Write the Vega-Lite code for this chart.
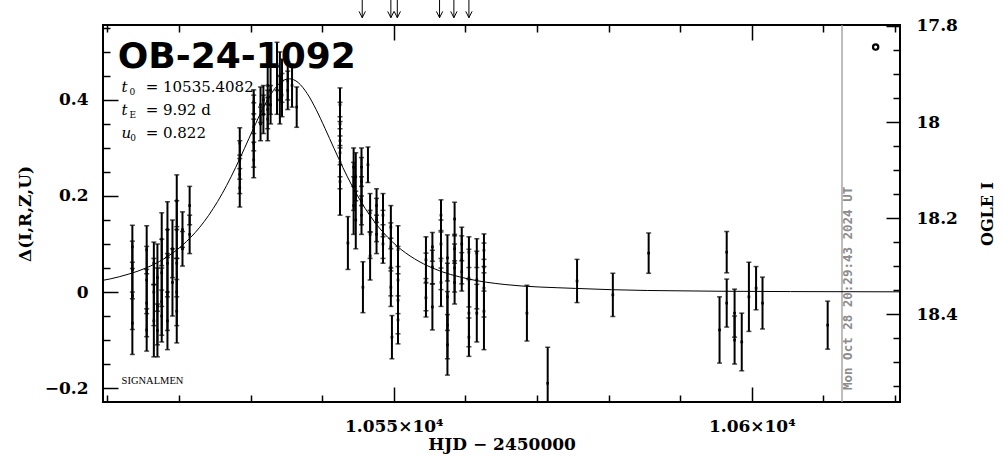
{
  "$schema": "https://vega.github.io/schema/vega-lite/v6.json",
  "width": 797,
  "height": 377,
  "autosize": {"type": "none"},
  "padding": {"left": 103, "top": 25, "right": 104, "bottom": 57},
  "background": "white",
  "config": {
    "view": {"stroke": "black", "strokeWidth": 2},
    "axis": {"domain": false, "grid": false, "tickColor": "black", "tickWidth": 1.5, "labelColor": "black", "titleColor": "black", "labelFont": "DejaVu Serif", "titleFont": "DejaVu Serif", "titleFontWeight": "bold", "labelFontWeight": "bold", "labelFontSize": 17, "titleFontSize": 17}
  },
  "data": {"values": [{"t": 10550, "d": 0, "m": 18}]},
  "datasets": {
    "pts": [
      {"t": 10513.5, "d": 0.094, "lo": 0.049, "hi": 0.139}, {"t": 10513.5, "d": 0.046, "lo": -0.014, "hi": 0.106}, {"t": 10513.5, "d": -0.008, "lo": -0.078, "hi": 0.062}, {"t": 10513.5, "d": -0.065, "lo": -0.13, "hi": 0.0},
      {"t": 10515.5, "d": 0.088, "lo": 0.038, "hi": 0.138}, {"t": 10515.5, "d": 0.025, "lo": -0.045, "hi": 0.095}, {"t": 10515.5, "d": -0.023, "lo": -0.093, "hi": 0.047}, {"t": 10515.5, "d": -0.079, "lo": -0.123, "hi": -0.035},
      {"t": 10516.5, "d": 0.06, "lo": 0.016, "hi": 0.104}, {"t": 10516.5, "d": 0.0, "lo": -0.07, "hi": 0.07}, {"t": 10516.5, "d": -0.06, "lo": -0.135, "hi": 0.015},
      {"t": 10517.0, "d": 0.03, "lo": -0.04, "hi": 0.1}, {"t": 10517.0, "d": -0.03, "lo": -0.11, "hi": 0.05}, {"t": 10517.0, "d": -0.08, "lo": -0.135, "hi": -0.025},
      {"t": 10517.6, "d": 0.11, "lo": 0.055, "hi": 0.165}, {"t": 10517.6, "d": 0.04, "lo": -0.03, "hi": 0.11}, {"t": 10517.6, "d": -0.02, "lo": -0.09, "hi": 0.05}, {"t": 10517.6, "d": -0.05, "lo": -0.104, "hi": 0.004},
      {"t": 10518.4, "d": 0.13, "lo": 0.072, "hi": 0.188}, {"t": 10518.4, "d": 0.06, "lo": -0.01, "hi": 0.13}, {"t": 10518.4, "d": 0.0, "lo": -0.08, "hi": 0.08}, {"t": 10518.4, "d": -0.06, "lo": -0.12, "hi": 0.0},
      {"t": 10519.1, "d": 0.09, "lo": 0.03, "hi": 0.15}, {"t": 10519.1, "d": 0.02, "lo": -0.05, "hi": 0.09},
      {"t": 10519.7, "d": 0.19, "lo": 0.136, "hi": 0.244}, {"t": 10519.7, "d": 0.13, "lo": 0.07, "hi": 0.19}, {"t": 10519.7, "d": 0.06, "lo": -0.01, "hi": 0.13}, {"t": 10519.7, "d": 0.0, "lo": -0.07, "hi": 0.07}, {"t": 10519.7, "d": -0.04, "lo": -0.106, "hi": 0.026},
      {"t": 10520.5, "d": 0.13, "lo": 0.093, "hi": 0.167}, {"t": 10520.5, "d": 0.09, "lo": 0.054, "hi": 0.126},
      {"t": 10521.5, "d": 0.18, "lo": 0.14, "hi": 0.22}, {"t": 10521.5, "d": 0.12, "lo": 0.08, "hi": 0.16},
      {"t": 10528.5, "d": 0.31, "lo": 0.278, "hi": 0.342}, {"t": 10528.5, "d": 0.275, "lo": 0.235, "hi": 0.315}, {"t": 10528.5, "d": 0.245, "lo": 0.205, "hi": 0.285}, {"t": 10528.5, "d": 0.217, "lo": 0.177, "hi": 0.257},
      {"t": 10530.45, "d": 0.396, "lo": 0.371, "hi": 0.421}, {"t": 10530.45, "d": 0.37, "lo": 0.33, "hi": 0.41}, {"t": 10530.45, "d": 0.344, "lo": 0.294, "hi": 0.394}, {"t": 10530.45, "d": 0.31, "lo": 0.26, "hi": 0.36}, {"t": 10530.45, "d": 0.275, "lo": 0.238, "hi": 0.312},
      {"t": 10531.4, "d": 0.39, "lo": 0.353, "hi": 0.427}, {"t": 10531.4, "d": 0.35, "lo": 0.315, "hi": 0.385},
      {"t": 10531.8, "d": 0.4, "lo": 0.37, "hi": 0.43}, {"t": 10531.8, "d": 0.37, "lo": 0.33, "hi": 0.41},
      {"t": 10532.4, "d": 0.43, "lo": 0.39, "hi": 0.47}, {"t": 10532.4, "d": 0.38, "lo": 0.34, "hi": 0.42}, {"t": 10532.4, "d": 0.36, "lo": 0.315, "hi": 0.405},
      {"t": 10532.8, "d": 0.42, "lo": 0.37, "hi": 0.47}, {"t": 10532.8, "d": 0.39, "lo": 0.35, "hi": 0.43},
      {"t": 10533.7, "d": 0.47, "lo": 0.42, "hi": 0.52}, {"t": 10533.7, "d": 0.42, "lo": 0.37, "hi": 0.47},
      {"t": 10534.1, "d": 0.45, "lo": 0.4, "hi": 0.5}, {"t": 10534.1, "d": 0.4, "lo": 0.35, "hi": 0.45},
      {"t": 10534.4, "d": 0.44, "lo": 0.395, "hi": 0.485}, {"t": 10534.4, "d": 0.41, "lo": 0.365, "hi": 0.455},
      {"t": 10535.2, "d": 0.44, "lo": 0.4, "hi": 0.48}, {"t": 10535.2, "d": 0.42, "lo": 0.38, "hi": 0.46},
      {"t": 10535.8, "d": 0.43, "lo": 0.385, "hi": 0.475},
      {"t": 10536.45, "d": 0.385, "lo": 0.343, "hi": 0.427},
      {"t": 10542.5, "d": 0.39, "lo": 0.355, "hi": 0.425}, {"t": 10542.5, "d": 0.35, "lo": 0.305, "hi": 0.395}, {"t": 10542.5, "d": 0.315, "lo": 0.265, "hi": 0.365}, {"t": 10542.5, "d": 0.29, "lo": 0.24, "hi": 0.34}, {"t": 10542.5, "d": 0.27, "lo": 0.215, "hi": 0.325}, {"t": 10542.5, "d": 0.23, "lo": 0.16, "hi": 0.3},
      {"t": 10543.6, "d": 0.102, "lo": 0.047, "hi": 0.157},
      {"t": 10544.4, "d": 0.26, "lo": 0.22, "hi": 0.3}, {"t": 10544.4, "d": 0.22, "lo": 0.17, "hi": 0.27}, {"t": 10544.4, "d": 0.18, "lo": 0.12, "hi": 0.24},
      {"t": 10544.7, "d": 0.24, "lo": 0.19, "hi": 0.29}, {"t": 10544.7, "d": 0.15, "lo": 0.09, "hi": 0.21},
      {"t": 10545.5, "d": 0.26, "lo": 0.22, "hi": 0.3}, {"t": 10545.5, "d": 0.23, "lo": 0.18, "hi": 0.28}, {"t": 10545.5, "d": 0.19, "lo": 0.14, "hi": 0.24}, {"t": 10545.5, "d": 0.16, "lo": 0.12, "hi": 0.2},
      {"t": 10545.7, "d": 0.01, "lo": -0.043, "hi": 0.063},
      {"t": 10546.4, "d": 0.265, "lo": 0.228, "hi": 0.302},
      {"t": 10546.7, "d": 0.165, "lo": 0.125, "hi": 0.205}, {"t": 10546.7, "d": 0.12, "lo": 0.07, "hi": 0.17}, {"t": 10546.7, "d": 0.075, "lo": 0.025, "hi": 0.125},
      {"t": 10547.6, "d": 0.18, "lo": 0.145, "hi": 0.215}, {"t": 10547.6, "d": 0.15, "lo": 0.105, "hi": 0.195}, {"t": 10547.6, "d": 0.12, "lo": 0.08, "hi": 0.16},
      {"t": 10548.5, "d": 0.16, "lo": 0.115, "hi": 0.205}, {"t": 10548.5, "d": 0.12, "lo": 0.07, "hi": 0.17}, {"t": 10548.5, "d": 0.1, "lo": 0.06, "hi": 0.14},
      {"t": 10549.6, "d": 0.135, "lo": 0.09, "hi": 0.18}, {"t": 10549.6, "d": 0.094, "lo": 0.044, "hi": 0.144}, {"t": 10549.6, "d": 0.052, "lo": -0.008, "hi": 0.112}, {"t": 10549.6, "d": 0.01, "lo": -0.03, "hi": 0.05},
      {"t": 10549.75, "d": -0.094, "lo": -0.139, "hi": -0.049},
      {"t": 10550.6, "d": 0.088, "lo": 0.038, "hi": 0.138}, {"t": 10550.6, "d": 0.025, "lo": -0.045, "hi": 0.095}, {"t": 10550.6, "d": -0.017, "lo": -0.087, "hi": 0.053}, {"t": 10550.6, "d": -0.058, "lo": -0.108, "hi": -0.008},
      {"t": 10554.5, "d": 0.067, "lo": 0.019, "hi": 0.115}, {"t": 10554.5, "d": 0.021, "lo": -0.039, "hi": 0.081}, {"t": 10554.5, "d": -0.012, "lo": -0.052, "hi": 0.028},
      {"t": 10555.4, "d": 0.094, "lo": 0.064, "hi": 0.124}, {"t": 10555.4, "d": 0.052, "lo": 0.017, "hi": 0.087}, {"t": 10555.4, "d": -0.031, "lo": -0.079, "hi": 0.017},
      {"t": 10556.6, "d": 0.16, "lo": 0.128, "hi": 0.192}, {"t": 10556.6, "d": 0.1, "lo": 0.05, "hi": 0.15}, {"t": 10556.6, "d": 0.065, "lo": 0.005, "hi": 0.125}, {"t": 10556.6, "d": 0.02, "lo": -0.03, "hi": 0.07},
      {"t": 10557.5, "d": 0.071, "lo": 0.023, "hi": 0.119}, {"t": 10557.5, "d": -0.01, "lo": -0.08, "hi": 0.06}, {"t": 10557.5, "d": -0.069, "lo": -0.139, "hi": 0.001}, {"t": 10557.5, "d": -0.11, "lo": -0.173, "hi": -0.047},
      {"t": 10558.5, "d": 0.152, "lo": 0.117, "hi": 0.187}, {"t": 10558.5, "d": 0.09, "lo": 0.06, "hi": 0.12}, {"t": 10558.5, "d": 0.05, "lo": 0.0, "hi": 0.1}, {"t": 10558.5, "d": 0.02, "lo": -0.025, "hi": 0.065},
      {"t": 10559.5, "d": 0.1, "lo": 0.065, "hi": 0.135}, {"t": 10559.5, "d": 0.067, "lo": 0.017, "hi": 0.117}, {"t": 10559.5, "d": 0.042, "lo": 0.002, "hi": 0.082},
      {"t": 10560.5, "d": 0.083, "lo": 0.051, "hi": 0.115}, {"t": 10560.5, "d": 0.029, "lo": -0.031, "hi": 0.089}, {"t": 10560.5, "d": -0.044, "lo": -0.114, "hi": 0.026}, {"t": 10560.5, "d": -0.094, "lo": -0.134, "hi": -0.054},
      {"t": 10561.6, "d": 0.081, "lo": 0.051, "hi": 0.111}, {"t": 10561.6, "d": 0.025, "lo": -0.035, "hi": 0.085}, {"t": 10561.6, "d": -0.044, "lo": -0.104, "hi": 0.016},
      {"t": 10562.6, "d": 0.087, "lo": 0.053, "hi": 0.121}, {"t": 10562.6, "d": 0.052, "lo": 0.002, "hi": 0.102}, {"t": 10562.6, "d": 0.008, "lo": -0.052, "hi": 0.068}, {"t": 10562.6, "d": -0.04, "lo": -0.12, "hi": 0.04},
      {"t": 10568.6, "d": -0.044, "lo": -0.102, "hi": 0.014},
      {"t": 10571.5, "d": -0.19, "lo": -0.265, "hi": -0.115},
      {"t": 10575.6, "d": 0.023, "lo": -0.022, "hi": 0.068},
      {"t": 10580.6, "d": -0.006, "lo": -0.051, "hi": 0.039},
      {"t": 10585.6, "d": 0.081, "lo": 0.039, "hi": 0.123},
      {"t": 10595.5, "d": -0.079, "lo": -0.148, "hi": -0.01},
      {"t": 10596.5, "d": 0.083, "lo": 0.04, "hi": 0.126}, {"t": 10596.5, "d": -0.023, "lo": -0.073, "hi": 0.027},
      {"t": 10597.6, "d": -0.044, "lo": -0.094, "hi": 0.006}, {"t": 10597.6, "d": -0.1, "lo": -0.15, "hi": -0.05},
      {"t": 10598.6, "d": -0.104, "lo": -0.164, "hi": -0.044},
      {"t": 10599.6, "d": -0.01, "lo": -0.082, "hi": 0.062},
      {"t": 10600.6, "d": 0.008, "lo": -0.037, "hi": 0.053},
      {"t": 10601.5, "d": -0.023, "lo": -0.077, "hi": 0.031},
      {"t": 10610.6, "d": -0.069, "lo": -0.119, "hi": -0.019}
    ],
    "curve": [
      {"t": 10509.4, "d": 0.0244}, {"t": 10510.41, "d": 0.0273}, {"t": 10512.91, "d": 0.037}, {"t": 10515.41, "d": 0.05},
      {"t": 10517.91, "d": 0.0691}, {"t": 10520.41, "d": 0.0963}, {"t": 10522.91, "d": 0.1349}, {"t": 10524.16, "d": 0.1597},
      {"t": 10525.41, "d": 0.1886}, {"t": 10526.66, "d": 0.2217}, {"t": 10527.91, "d": 0.2589}, {"t": 10529.16, "d": 0.2992},
      {"t": 10530.41, "d": 0.3405}, {"t": 10531.66, "d": 0.3801}, {"t": 10532.91, "d": 0.4134}, {"t": 10534.16, "d": 0.4361},
      {"t": 10535.41, "d": 0.444}, {"t": 10536.66, "d": 0.4361}, {"t": 10537.91, "d": 0.4134}, {"t": 10539.16, "d": 0.3801},
      {"t": 10540.41, "d": 0.3405}, {"t": 10541.66, "d": 0.2992}, {"t": 10542.91, "d": 0.2589}, {"t": 10544.16, "d": 0.2217},
      {"t": 10545.41, "d": 0.1886}, {"t": 10546.66, "d": 0.1597}, {"t": 10547.91, "d": 0.1349}, {"t": 10550.41, "d": 0.0963},
      {"t": 10552.91, "d": 0.0691}, {"t": 10555.41, "d": 0.05}, {"t": 10560.41, "d": 0.0273}, {"t": 10565.41, "d": 0.0158},
      {"t": 10575.41, "d": 0.0075}, {"t": 10585.41, "d": 0.0032}, {"t": 10605.41, "d": 0.0009}, {"t": 10620.7, "d": 0.0004}
    ],
    "arrows": [{"t": 10545.6}, {"t": 10549.6}, {"t": 10550.5}, {"t": 10556.4}, {"t": 10558.4}, {"t": 10560.5}],
    "sym": [{"s": "t", "t": 10512.0, "d": 0.4167}, {"s": "t", "t": 10512.0, "d": 0.3688}, {"s": "u", "t": 10512.0, "d": 0.3208}],
    "subs": [{"s": "0", "t": 10513.1, "d": 0.4104}, {"s": "E", "t": 10513.1, "d": 0.3625}, {"s": "0", "t": 10513.2, "d": 0.3146}],
    "vals": [{"s": "= 10535.4082", "t": 10515.36, "d": 0.4167}, {"s": "= 9.92 d", "t": 10515.36, "d": 0.3688}, {"s": "= 0.822", "t": 10515.36, "d": 0.3208}]
  },
  "resolve": {"scale": {"y": "independent"}, "axis": {"x": "independent", "y": "independent"}},
  "layer": [
    {
      "data": {"values": [{"t": 10612.6}]},
      "mark": {"type": "rule", "color": "#9a9a9a", "strokeWidth": 1.3},
      "encoding": {"x": {"field": "t", "type": "quantitative", "scale": {"domain": [10509.4, 10620.7], "nice": false, "zero": false}, "axis": null}}
    },
    {
      "data": {"name": "curve"},
      "mark": {"type": "line", "color": "black", "strokeWidth": 1, "interpolate": "monotone", "clip": true},
      "encoding": {
        "x": {"field": "t", "type": "quantitative", "scale": {"domain": [10509.4, 10620.7], "nice": false, "zero": false}, "axis": null},
        "y": {"field": "d", "type": "quantitative", "scale": {"domain": [-0.229, 0.556], "nice": false, "zero": false}, "axis": null}
      }
    },
    {
      "data": {"name": "pts"},
      "mark": {"type": "rule", "color": "black", "strokeWidth": 2, "clip": true},
      "encoding": {
        "x": {"field": "t", "type": "quantitative", "scale": {"domain": [10509.4, 10620.7], "nice": false, "zero": false}, "axis": null},
        "y": {"field": "lo", "type": "quantitative", "scale": {"domain": [-0.229, 0.556], "nice": false, "zero": false}, "axis": null},
        "y2": {"field": "hi"}
      }
    },
    {
      "data": {"name": "pts"},
      "mark": {"type": "tick", "orient": "horizontal", "color": "black", "size": 5, "thickness": 1.5, "clip": true},
      "encoding": {
        "x": {"field": "t", "type": "quantitative", "scale": {"domain": [10509.4, 10620.7], "nice": false, "zero": false}, "axis": null},
        "y": {"field": "lo", "type": "quantitative", "scale": {"domain": [-0.229, 0.556], "nice": false, "zero": false}, "axis": null}
      }
    },
    {
      "data": {"name": "pts"},
      "mark": {"type": "tick", "orient": "horizontal", "color": "black", "size": 5, "thickness": 1.5, "clip": true},
      "encoding": {
        "x": {"field": "t", "type": "quantitative", "scale": {"domain": [10509.4, 10620.7], "nice": false, "zero": false}, "axis": null},
        "y": {"field": "hi", "type": "quantitative", "scale": {"domain": [-0.229, 0.556], "nice": false, "zero": false}, "axis": null}
      }
    },
    {
      "data": {"name": "pts"},
      "mark": {"type": "point", "shape": "square", "filled": true, "size": 7, "color": "black", "opacity": 1},
      "encoding": {
        "x": {"field": "t", "type": "quantitative", "scale": {"domain": [10509.4, 10620.7], "nice": false, "zero": false}, "axis": null},
        "y": {"field": "d", "type": "quantitative", "scale": {"domain": [-0.229, 0.556], "nice": false, "zero": false}, "axis": null}
      }
    },
    {
      "data": {"values": [{"t": 10617.3, "d": 0.51}]},
      "mark": {"type": "point", "shape": "circle", "filled": false, "size": 28, "color": "black", "strokeWidth": 2.2, "opacity": 1},
      "encoding": {
        "x": {"field": "t", "type": "quantitative", "scale": {"domain": [10509.4, 10620.7], "nice": false, "zero": false}, "axis": null},
        "y": {"field": "d", "type": "quantitative", "scale": {"domain": [-0.229, 0.556], "nice": false, "zero": false}, "axis": null}
      }
    },
    {
      "data": {"name": "arrows"},
      "mark": {"type": "rule", "color": "black", "strokeWidth": 1, "clip": false},
      "encoding": {
        "x": {"field": "t", "type": "quantitative", "scale": {"domain": [10509.4, 10620.7], "nice": false, "zero": false}, "axis": null},
        "y": {"datum": 0.608, "type": "quantitative", "scale": {"domain": [-0.229, 0.556], "nice": false, "zero": false}, "axis": null},
        "y2": {"datum": 0.5712}
      }
    },
    {
      "data": {"name": "arrows"},
      "mark": {"type": "point", "shape": "M -1 -2 L 0 0 L 1 -2", "filled": false, "size": 40, "color": "black", "strokeWidth": 1, "opacity": 1, "clip": false},
      "encoding": {
        "x": {"field": "t", "type": "quantitative", "scale": {"domain": [10509.4, 10620.7], "nice": false, "zero": false}, "axis": null},
        "y": {"datum": 0.5712, "type": "quantitative", "scale": {"domain": [-0.229, 0.556], "nice": false, "zero": false}, "axis": null}
      }
    },
    {
      "data": {"values": [{"s": "OB-24-1092", "t": 10511.45, "d": 0.4667}]},
      "mark": {"type": "text", "align": "left", "baseline": "alphabetic", "font": "DejaVu Sans", "fontWeight": "bold", "fontSize": 36, "color": "black"},
      "encoding": {
        "x": {"field": "t", "type": "quantitative", "scale": {"domain": [10509.4, 10620.7], "nice": false, "zero": false}, "axis": null},
        "y": {"field": "d", "type": "quantitative", "scale": {"domain": [-0.229, 0.556], "nice": false, "zero": false}, "axis": null},
        "text": {"field": "s"}
      }
    },
    {
      "data": {"name": "sym"},
      "mark": {"type": "text", "align": "left", "baseline": "alphabetic", "font": "DejaVu Serif", "fontStyle": "italic", "fontSize": 15, "color": "black"},
      "encoding": {
        "x": {"field": "t", "type": "quantitative", "scale": {"domain": [10509.4, 10620.7], "nice": false, "zero": false}, "axis": null},
        "y": {"field": "d", "type": "quantitative", "scale": {"domain": [-0.229, 0.556], "nice": false, "zero": false}, "axis": null},
        "text": {"field": "s"}
      }
    },
    {
      "data": {"name": "subs"},
      "mark": {"type": "text", "align": "left", "baseline": "alphabetic", "font": "DejaVu Serif", "fontSize": 9, "color": "black"},
      "encoding": {
        "x": {"field": "t", "type": "quantitative", "scale": {"domain": [10509.4, 10620.7], "nice": false, "zero": false}, "axis": null},
        "y": {"field": "d", "type": "quantitative", "scale": {"domain": [-0.229, 0.556], "nice": false, "zero": false}, "axis": null},
        "text": {"field": "s"}
      }
    },
    {
      "data": {"name": "vals"},
      "mark": {"type": "text", "align": "left", "baseline": "alphabetic", "font": "DejaVu Serif", "fontSize": 15, "color": "black"},
      "encoding": {
        "x": {"field": "t", "type": "quantitative", "scale": {"domain": [10509.4, 10620.7], "nice": false, "zero": false}, "axis": null},
        "y": {"field": "d", "type": "quantitative", "scale": {"domain": [-0.229, 0.556], "nice": false, "zero": false}, "axis": null},
        "text": {"field": "s"}
      }
    },
    {
      "data": {"values": [{"s": "SIGNALMEN", "t": 10512.0, "d": -0.1917}]},
      "mark": {"type": "text", "align": "left", "baseline": "alphabetic", "font": "Liberation Serif", "fontSize": 10.5, "color": "black"},
      "encoding": {
        "x": {"field": "t", "type": "quantitative", "scale": {"domain": [10509.4, 10620.7], "nice": false, "zero": false}, "axis": null},
        "y": {"field": "d", "type": "quantitative", "scale": {"domain": [-0.229, 0.556], "nice": false, "zero": false}, "axis": null},
        "text": {"field": "s"}
      }
    },
    {
      "data": {"values": [{"s": "Mon Oct 28 20:29:43 2024 UT", "t": 10613.5, "d": -0.204}]},
      "mark": {"type": "text", "align": "left", "baseline": "middle", "angle": 270, "font": "DejaVu Sans Mono", "fontWeight": "bold", "fontSize": 12.5, "color": "#8c8c8c"},
      "encoding": {
        "x": {"field": "t", "type": "quantitative", "scale": {"domain": [10509.4, 10620.7], "nice": false, "zero": false}, "axis": null},
        "y": {"field": "d", "type": "quantitative", "scale": {"domain": [-0.229, 0.556], "nice": false, "zero": false}, "axis": null},
        "text": {"field": "s"}
      }
    },
    {
      "mark": {"type": "point", "opacity": 0},
      "encoding": {"x": {"field": "t", "type": "quantitative", "scale": {"domain": [10509.4, 10620.7], "nice": false, "zero": false},
        "axis": {"orient": "bottom", "values": [10550, 10600], "tickSize": -15, "labelPadding": 31, "labelExpr": "datum.value == 10550 ? '1.055×10⁴' : '1.06×10⁴'", "title": "HJD − 2450000", "titleFontSize": 17, "titlePadding": 2}}}
    },
    {
      "mark": {"type": "point", "opacity": 0},
      "encoding": {"x": {"field": "t", "type": "quantitative", "scale": {"domain": [10509.4, 10620.7], "nice": false, "zero": false},
        "axis": {"orient": "bottom", "values": [10510, 10520, 10530, 10540, 10560, 10570, 10580, 10590, 10610, 10620], "tickSize": -7, "labels": false, "title": null}}}
    },
    {
      "mark": {"type": "point", "opacity": 0},
      "encoding": {"x": {"field": "t", "type": "quantitative", "scale": {"domain": [10509.4, 10620.7], "nice": false, "zero": false},
        "axis": {"orient": "top", "values": [10550, 10600], "tickSize": -15, "labels": false, "title": null}}}
    },
    {
      "mark": {"type": "point", "opacity": 0},
      "encoding": {"x": {"field": "t", "type": "quantitative", "scale": {"domain": [10509.4, 10620.7], "nice": false, "zero": false},
        "axis": {"orient": "top", "values": [10510, 10520, 10530, 10540, 10560, 10570, 10580, 10590, 10610, 10620], "tickSize": -7, "labels": false, "title": null}}}
    },
    {
      "mark": {"type": "point", "opacity": 0},
      "encoding": {"y": {"field": "d", "type": "quantitative", "scale": {"domain": [-0.229, 0.556], "nice": false, "zero": false},
        "axis": {"orient": "left", "values": [-0.2, 0, 0.2, 0.4], "tickSize": -15, "labelPadding": 30, "labelExpr": "datum.value == 0 ? '0' : format(datum.value, '.1f')", "title": "Δ(I,R,Z,U)", "titlePadding": 10}}}
    },
    {
      "mark": {"type": "point", "opacity": 0},
      "encoding": {"y": {"field": "d", "type": "quantitative", "scale": {"domain": [-0.229, 0.556], "nice": false, "zero": false},
        "axis": {"orient": "left", "values": [-0.15, -0.1, -0.05, 0.05, 0.1, 0.15, 0.25, 0.3, 0.35, 0.45, 0.5, 0.55], "tickSize": -7, "labels": false, "title": null}}}
    },
    {
      "mark": {"type": "point", "opacity": 0},
      "encoding": {"y": {"field": "m", "type": "quantitative", "scale": {"domain": [17.798, 18.583], "nice": false, "zero": false, "reverse": true},
        "axis": {"orient": "right", "values": [17.8, 18, 18.2, 18.4], "tickSize": -14, "labelPadding": 30, "labelExpr": "datum.value == 18 ? '18' : format(datum.value, '.1f')", "title": "OGLE I", "titleAngle": 270, "titlePadding": 38, "titleFontSize": 16}}}
    },
    {
      "mark": {"type": "point", "opacity": 0},
      "encoding": {"y": {"field": "m", "type": "quantitative", "scale": {"domain": [17.798, 18.583], "nice": false, "zero": false, "reverse": true},
        "axis": {"orient": "right", "values": [17.85, 17.9, 17.95, 18.05, 18.1, 18.15, 18.25, 18.3, 18.35, 18.45, 18.5, 18.55], "tickSize": -7, "labels": false, "title": null}}}
    }
  ]
}
